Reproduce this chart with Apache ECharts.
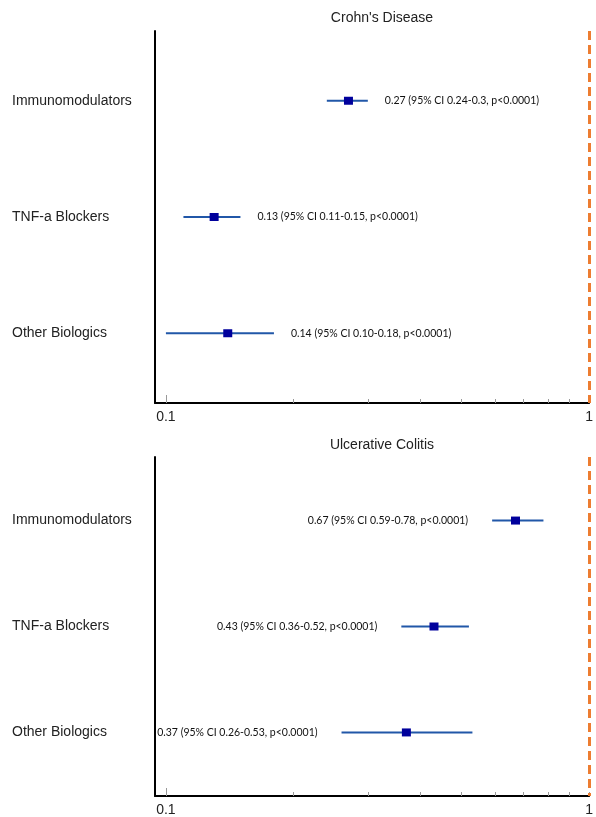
<!DOCTYPE html>
<html>
<head>
<meta charset="utf-8">
<script src="https://cdn.jsdelivr.net/npm/echarts@6/dist/echarts.min.js"></script>
<style>
html,body{margin:0;padding:0;background:#fff;}
#main{width:596px;height:817px;}
</style>
</head>
<body>
<div id="main"></div>
<script>
// ---- data ----
var categories = ['Immunomodulators', 'TNF-a Blockers', 'Other Biologics'];
var panelTitles = ["Crohn's Disease", 'Ulcerative Colitis'];

var cdEstimate = [0.27, 0.13, 0.14];
var cdLower = [0.24, 0.11, 0.10];
var cdUpper = [0.30, 0.15, 0.18];
var cdLabels = [
  '0.27 (95% CI 0.24-0.3, p<0.0001)',
  '0.13 (95% CI 0.11-0.15, p<0.0001)',
  '0.14 (95% CI 0.10-0.18, p<0.0001)'
];

var ucEstimate = [0.67, 0.43, 0.37];
var ucLower = [0.59, 0.36, 0.26];
var ucUpper = [0.78, 0.52, 0.53];
var ucLabels = [
  '0.67 (95% CI 0.59-0.78, p<0.0001)',
  '0.43 (95% CI 0.36-0.52, p<0.0001)',
  '0.37 (95% CI 0.26-0.53, p<0.0001)'
];

var xTickValues = [0.1, 0.2, 0.3, 0.4, 0.5, 0.6, 0.7, 0.8, 0.9, 1];
var xLabelValues = [0.1, 1];
var referenceValue = 1;

// ---- build ----
var lg = function (v) { return Math.log10(v); };
var XMIN = -1.0258, XMAX = 0;
var LINE_COLOR = '#2157a8', MARK_COLOR = '#00009c';
var LABEL_FONT = '10.5px Lato, "Open Sans", sans-serif';

var grids = [
  {left: 155, right: 3, top: 31, height: 372},
  {left: 155, right: 3, top: 457, height: 343}
];

function makeX(i) {
  return [{
    gridIndex: i, type: 'value', min: XMIN, max: XMAX, position: 'bottom',
    axisLine: {show: true, onZero: false, lineStyle: {color: '#000', width: 2}},
    axisTick: {show: true, inside: true, length: 4, customValues: xTickValues.slice(1).map(lg),
      lineStyle: {color: '#999', width: 1}},
    axisLabel: {customValues: xLabelValues.map(lg), formatter: function (v) { return String(+Math.pow(10, v).toFixed(3)); },
      fontSize: 14, color: '#222', margin: 7, fontFamily: '"Liberation Sans", Arial, sans-serif'},
    splitLine: {show: false}
  }, {
    gridIndex: i, type: 'value', min: XMIN, max: XMAX, position: 'bottom',
    axisLine: {show: false, onZero: false},
    axisTick: {show: true, inside: true, length: 8, customValues: [lg(xTickValues[0])],
      lineStyle: {color: '#999', width: 1}},
    axisLabel: {show: false},
    splitLine: {show: false}
  }];
}
function makeY(i) {
  return {
    gridIndex: i, type: 'value', min: -0.6, max: 2.6, inverse: true,
    axisLine: {show: true, onZero: false, lineStyle: {color: '#000', width: 2}},
    axisTick: {show: false},
    axisLabel: {customValues: [0, 1, 2], formatter: function (v) { return categories[v]; },
      align: 'left', margin: 143, fontSize: 14, color: '#222', fontFamily: '"Liberation Sans", Arial, sans-serif'},
    splitLine: {show: false}
  };
}

function makeSeries(i, est, lo, hi, labels, side) {
  var data = est.map(function (e, k) { return [lg(lo[k]), lg(e), lg(hi[k]), k]; });
  return {
    type: 'custom', xAxisIndex: i * 2, yAxisIndex: i,
    encode: {x: [0, 1, 2], y: 3},
    data: data,
    renderItem: function (params, api) {
      var row = api.value(3);
      var pLo = api.coord([api.value(0), row]);
      var pEst = api.coord([api.value(1), row]);
      var pHi = api.coord([api.value(2), row]);
      var text = labels[params.dataIndex];
      return {
        type: 'group',
        children: [
          {type: 'line', shape: {x1: pLo[0], y1: pLo[1], x2: pHi[0], y2: pHi[1]},
            style: {stroke: LINE_COLOR, lineWidth: 2}},
          {type: 'rect', shape: {x: pEst[0] - 4.5, y: pEst[1] - 4, width: 9, height: 8},
            style: {fill: MARK_COLOR}},
          {type: 'text', style: {
            text: text,
            x: side === 'right' ? pHi[0] + 17 : pLo[0] - 24,
            y: pEst[1],
            align: side === 'right' ? 'left' : 'right',
            verticalAlign: 'middle',
            font: LABEL_FONT, fill: '#111'
          }}
        ]
      };
    },
    markLine: {
      silent: true, symbol: 'none', label: {show: false},
      lineStyle: {color: '#ED7D31', width: 3, type: [9, 5]},
      data: [{xAxis: lg(referenceValue)}]
    },
    z: 3
  };
}

var option = {
  animation: false,
  backgroundColor: '#fff',
  title: panelTitles.map(function (t, i) {
    return {text: t, left: 382, textAlign: 'center', top: i === 0 ? 11 : 438, padding: 0,
      textStyle: {fontSize: 14, fontWeight: 'normal', color: '#222', fontFamily: '"Liberation Sans", Arial, sans-serif'}};
  }),
  grid: grids,
  xAxis: makeX(0).concat(makeX(1)),
  yAxis: [makeY(0), makeY(1)],
  series: [
    makeSeries(0, cdEstimate, cdLower, cdUpper, cdLabels, 'right'),
    makeSeries(1, ucEstimate, ucLower, ucUpper, ucLabels, 'left')
  ]
};

var chart = echarts.init(document.getElementById('main'), null, {renderer: 'canvas'});
chart.setOption(option);
</script>
</body>
</html>
